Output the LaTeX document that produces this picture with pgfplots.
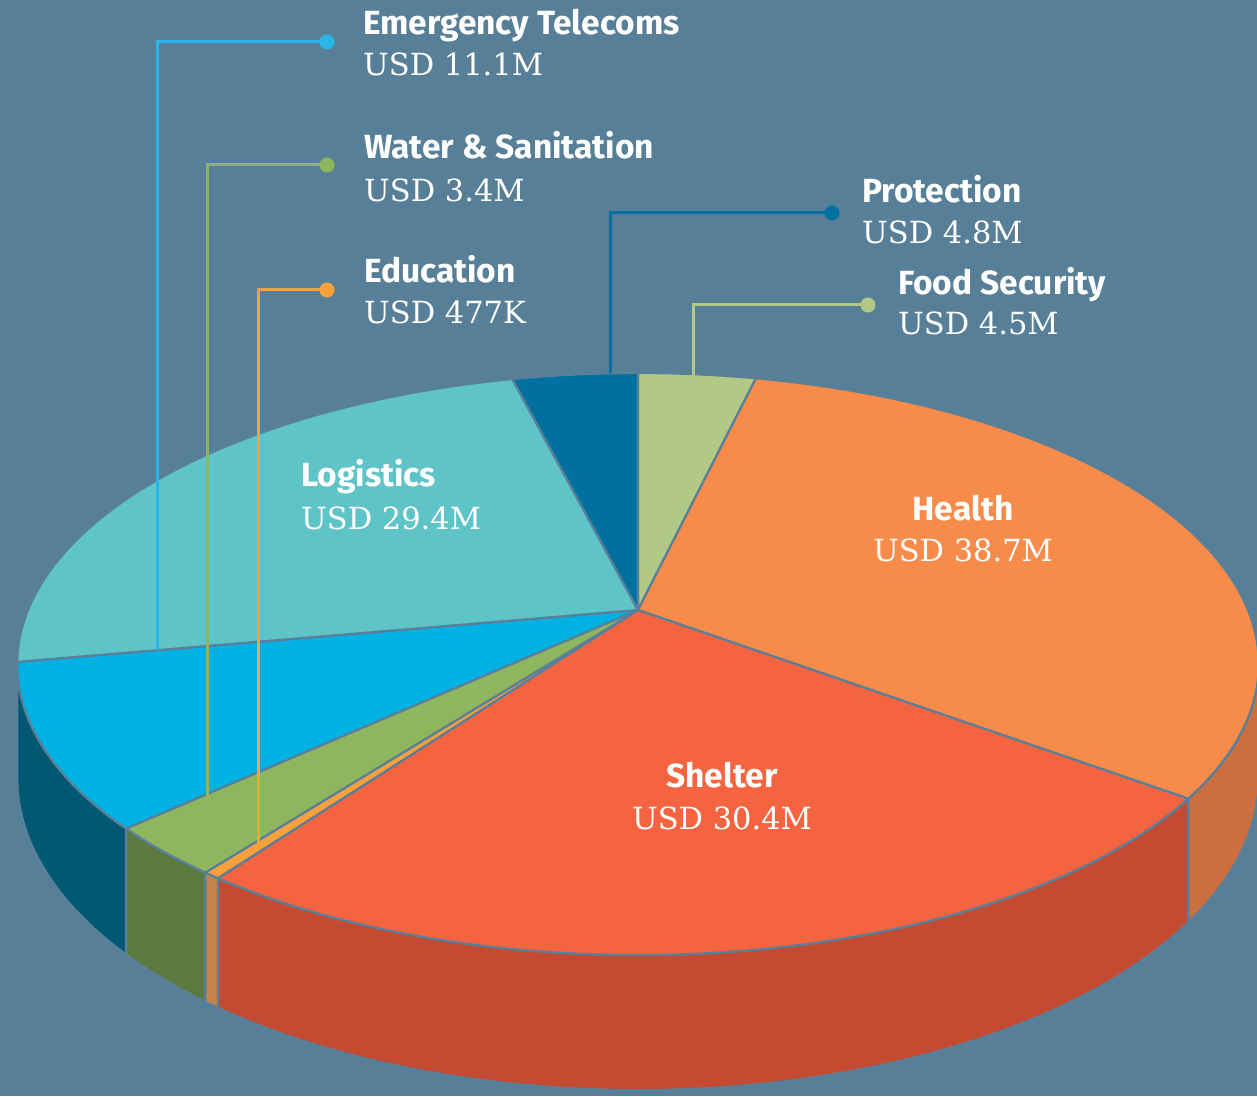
\documentclass[border=0pt]{standalone}
\usepackage{fontspec}
\setmainfont{DejaVu Serif}
\newfontfamily\lblfont{Fira Sans}
\usepackage{pgfplots}
\pgfplotsset{compat=1.18}

\definecolor{bg}{HTML}{587F98}
\definecolor{edge}{HTML}{5A7F99}
\definecolor{cFood}{HTML}{B2C887}
\definecolor{cHealth}{HTML}{F78C4A}
\definecolor{cShelter}{HTML}{F56440}
\definecolor{cEdu}{HTML}{F8A03C}
\definecolor{cWash}{HTML}{8FB65E}
\definecolor{cET}{HTML}{00B2E3}
\definecolor{cLog}{HTML}{5EC4C8}
\definecolor{cProt}{HTML}{0070A0}
\definecolor{sHealth}{HTML}{CB6F40}
\definecolor{sShelter}{HTML}{C44A31}
\definecolor{sEdu}{HTML}{C8834A}
\definecolor{sWash}{HTML}{5C7A40}
\definecolor{sET}{HTML}{005873}
\definecolor{lET}{HTML}{29B5E8}

% funding, USD million, clockwise from 12 o'clock
\def\vFood{4.5}
\def\vHealth{38.7}
\def\vShelter{30.4}
\def\vEdu{0.477}
\def\vWash{3.4}
\def\vET{11.1}
\def\vLog{29.4}
\def\vProt{4.8}

\tikzset{
  declare function={
    sc(\s,\r)=1/(1+0.1856*\r*cos(\s));
    PX(\s,\r)=638+610*\r*sin(\s)*sc(\s,\r);
    PY(\s,\r,\d)=1096-(610+(\d-281*\r*cos(\s))*sc(\s,\r));
    WA(\t,\p,\q)=ifthenelse(\t<1,\p,ifthenelse(\t<2,\p+(\q-\p)*(\t-1),\q));
    WR(\t)=ifthenelse(\t<1,\t,ifthenelse(\t<2,1,3-\t));
    SA(\t,\p,\q)=ifthenelse(\t<1,\p+(\q-\p)*\t,ifthenelse(\t<2,\q,ifthenelse(\t<3,\q-(\q-\p)*(\t-2),\p)));
    SD(\t)=ifthenelse(\t<1,0,ifthenelse(\t<2,110*(\t-1),ifthenelse(\t<3,110,110*(4-\t))));
  }
}

\newcommand\topwedge[3]{%
  \addplot[fill=#3, draw=edge, line width=2.2pt, line join=round, domain=0:3, samples=241, variable=\t]
   ({PX(WA(\t,#1,#2),WR(\t))},{PY(WA(\t,#1,#2),WR(\t),0)});
}
\newcommand\sidewall[3]{%
  \addplot[fill=#3, draw=edge, line width=2.2pt, line join=round, domain=0:4, samples=321, variable=\t]
   ({PX(SA(\t,#1,#2),1)},{PY(SA(\t,#1,#2),1,SD(\t))});
}

\newcommand\bv[1]{{\lblfont\bfseries\fontsize{33.5}{33.5}\selectfont #1}}
\newcommand\sv[1]{{\fontsize{30.5}{30.5}\selectfont #1}}

\begin{document}
\begin{tikzpicture}
\pgfmathsetmacro\tot{\vFood+\vHealth+\vShelter+\vEdu+\vWash+\vET+\vLog+\vProt}
\pgfmathsetmacro\aA{0}
\pgfmathsetmacro\aB{\aA+360*\vFood/\tot}
\pgfmathsetmacro\aC{\aB+360*\vHealth/\tot}
\pgfmathsetmacro\aD{\aC+360*\vShelter/\tot}
\pgfmathsetmacro\aE{\aD+360*\vEdu/\tot}
\pgfmathsetmacro\aF{\aE+360*\vWash/\tot}
\pgfmathsetmacro\aG{\aF+360*\vET/\tot}
\pgfmathsetmacro\aH{\aG+360*\vLog/\tot}
\pgfmathsetmacro\aI{360}
\pgfmathsetmacro\visL{100.7}
\pgfmathsetmacro\visR{259.3}
\begin{axis}[
  width=1257pt, height=1096pt, scale only axis,
  xmin=0, xmax=1257, ymin=0, ymax=1096,
  axis line style={draw=none}, ticks=none,
  axis background/.style={fill=bg},
  clip=true,
]
% side walls (visible front part)
\sidewall{\visL}{\aC}{sHealth}
\sidewall{\aC}{\aD}{sShelter}
\sidewall{\aD}{\aE}{sEdu}
\sidewall{\aE}{\aF}{sWash}
\sidewall{\aF}{\visR}{sET}
% top faces
\topwedge{\aA}{\aB}{cFood}
\topwedge{\aB}{\aC}{cHealth}
\topwedge{\aC}{\aD}{cShelter}
\topwedge{\aD}{\aE}{cEdu}
\topwedge{\aE}{\aF}{cWash}
\topwedge{\aF}{\aG}{cET}
\topwedge{\aG}{\aH}{cLog}
\topwedge{\aH}{\aI}{cProt}
% leader lines
\addplot[lET, line width=3pt, mark=*, mark size=6pt, mark indices={1}] coordinates {(327,1054) (157,1054) (157,446)};
\addplot[cWash, line width=3pt, mark=*, mark size=6pt, mark indices={1}] coordinates {(327,931) (207,931) (207,299)};
\addplot[cEdu, line width=3pt, mark=*, mark size=6pt, mark indices={1}] coordinates {(327,806) (258,806) (258,251)};
\addplot[cProt, line width=3pt, mark=*, mark size=6pt, mark indices={1}] coordinates {(832,883) (610,883) (610,723)};
\addplot[cFood, line width=3pt, mark=*, mark size=6pt, mark indices={1}] coordinates {(868,791) (693,791) (693,720)};
% labels
\begin{scope}[every node/.style={inner sep=0pt, text=white}]
\node[anchor=base west] at (axis cs:363,1061) {\bv{Emergency Telecoms}};
\node[anchor=base west] at (axis cs:363,1020) {\sv{USD 11.1M}};
\node[anchor=base west] at (axis cs:364,937) {\bv{Water \& Sanitation}};
\node[anchor=base west] at (axis cs:364,894) {\sv{USD 3.4M}};
\node[anchor=base west] at (axis cs:364,813) {\bv{Education}};
\node[anchor=base west] at (axis cs:364,772) {\sv{USD 477K}};
\node[anchor=base west] at (axis cs:862,893) {\bv{Protection}};
\node[anchor=base west] at (axis cs:862,852) {\sv{USD 4.8M}};
\node[anchor=base west] at (axis cs:898,801) {\bv{Food Security}};
\node[anchor=base west] at (axis cs:898,761) {\sv{USD 4.5M}};
\node[anchor=base west] at (axis cs:301,609) {\bv{Logistics}};
\node[anchor=base west] at (axis cs:301,566) {\sv{USD 29.4M}};
\node[anchor=base] at (axis cs:963,575) {\bv{Health}};
\node[anchor=base] at (axis cs:963,534) {\sv{USD 38.7M}};
\node[anchor=base] at (axis cs:722,309) {\bv{Shelter}};
\node[anchor=base] at (axis cs:722,267) {\sv{USD 30.4M}};
\end{scope}
\end{axis}
\end{tikzpicture}
\end{document}
